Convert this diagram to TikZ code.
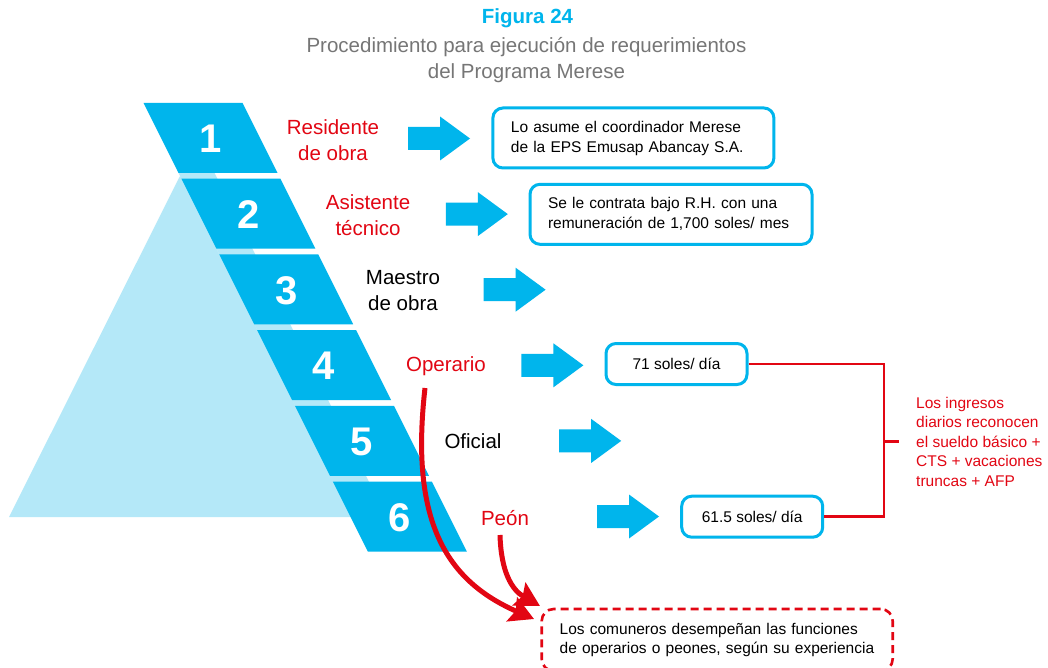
\documentclass[tikz,border=0pt]{standalone}
\usepackage{fontspec}
\setmainfont{Liberation Sans}
\usepackage{tikz}
\usetikzlibrary{arrows.meta}
\tikzstyle{canvas} = [x = 1pt, y = -1pt]
\definecolor{mereseBlue}{RGB}{0,181,236}
\definecolor{mereseLight}{RGB}{180,232,248}
\definecolor{mereseRed}{RGB}{226,6,19}
\definecolor{captionGrey}{RGB}{118,118,118}
\tikzstyle{bandStyle} = [fill=mereseBlue]
\tikzstyle{bandText} = [text=white, font=\fontsize{40}{40}\selectfont\bfseries]
\tikzstyle{roleRed} = [text=mereseRed, align=center, font=\fontsize{20.5}{26}\selectfont]
\tikzstyle{roleBlack} = [text=black, align=center, font=\fontsize{20.5}{26}\selectfont]
\tikzstyle{blueArrow} = [fill=mereseBlue]
\tikzstyle{infoBox} = [draw=mereseBlue, line width=3pt, rounded corners=10pt, fill=white, font=\fontsize{15.5}{20}\selectfont, align=left, inner xsep=18pt]
\tikzstyle{noteBox} = [draw=mereseRed, line width=2.6pt, dash pattern=on 8pt off 5pt, rounded corners=12pt, font=\fontsize{15.5}{18.6}\selectfont, align=left, inner xsep=18pt]
\tikzstyle{ingresosText} = [text=mereseRed, align=left, font=\fontsize{15.5}{19.5}\selectfont, inner xsep=17pt, inner ysep=0pt]
\tikzstyle{bracketLine} = [draw=mereseRed, line width=2.8pt]
\tikzstyle{curvedArrow} = [draw=mereseRed, line width=5pt, -{Stealth[length=24pt, width=26pt, inset=4pt]}]
\newcommand{\band}[2]{
  \pgfmathsetmacro{\bandTop}{#2}
  \pgfmathsetmacro{\bandBottom}{#2 + 70}
  \fill [bandStyle] ({92 + 0.5 * \bandTop}, {\bandTop}) -- ++(99, 0) -- ({191 + 0.5 * \bandBottom}, {\bandBottom}) -- ++(-99, 0) -- cycle;
  \node [bandText] (band#1) at ({141.5 + 0.5 * (\bandTop + 35)}, {\bandTop + 36}) {#1};
}
\newcommand{\blockArrow}[2]{\fill [blueArrow] ({#1}, {#2 - 11.5}) -- ++(32, 0) -- ++(0, -10.5) -- ({#1 + 62}, {#2}) -- ({#1 + 32}, {#2 + 22}) -- ++(0, -10.5) -- ({#1}, {#2 + 11.5}) -- cycle;}

\begin{document}
\begin{tikzpicture}[canvas]
  \clip (0, 0) rectangle (1048, 668);
  \useasboundingbox (0, 0) rectangle (1048, 668);
  \fill [white] (0, 0) rectangle (1048, 668);

  % title
  \node [font=\fontsize{20.5}{24}\selectfont\bfseries, text=mereseBlue] (figTitle) at (527.5, 18) {Figura 24};
  \node [font=\fontsize{20.5}{26}\selectfont, text=captionGrey, align=center] (figCaption) at (526.5, 60) {Procedimiento para ejecución de requerimientos\\del Programa Merese};

  % pyramid
  \fill [mereseLight] (180, 176) -- (9, 517) -- (351, 517) -- cycle;
  \fill [mereseLight] ({92 + 0.5 * 170}, 170) -- ++(36, 0) -- ({128 + 0.5 * 485}, 485) -- ({92 + 0.5 * 485}, 485) -- cycle;
  \foreach \n in {1,...,6} {
    \pgfmathsetmacro{\var}{103 + 75.7 * (\n - 1)}
    \band{\n}{\var}
  }

  % roles
  \node [roleRed] (residente) at (333, 140) {Residente\\de obra};
  \node [roleRed] (asistente) at (368, 215) {Asistente\\técnico};
  \node [roleBlack] (maestro) at (403, 290.5) {Maestro\\de obra};
  \node [roleRed] (operario) at (446, 366) {Operario};
  \node [roleBlack] (oficial) at (473, 441) {Oficial};
  \node [roleRed] (peon) at (505, 518) {Peón};

  \foreach \row in {0,...,5} {
    \pgfmathsetmacro{\arrowX}{408 + 37.8 * \row}
    \pgfmathsetmacro{\arrowY}{138.5 + 75.6 * \row}
    \blockArrow{\arrowX}{\arrowY}
  }

  % boxes
  \node [infoBox, text width=245pt, minimum height=60pt] (coordinador) at (633.4, 138) {Lo asume el coordinador Merese\\de la EPS Emusap Abancay S.A.};
  \node [infoBox, text width=246pt, minimum height=60pt] (contrata) at (671, 214.3) {Se le contrata bajo R.H. con una\\remuneración de 1,700 soles/ mes};
  \node [infoBox, minimum width=141pt, minimum height=41pt] (sueldoOperario) at (676.5, 364) {71 soles/ día};
  \node [infoBox, minimum width=141pt, minimum height=41pt] (sueldoPeon) at (752.2, 516.7) {61.5 soles/ día};

  \node [ingresosText, anchor=west] (ingresos) at (899, 441.5) {Los ingresos\\diarios reconocen\\el sueldo básico +\\CTS + vacaciones\\truncas + AFP};
  \coordinate (bracketJoint) at (884, 441.5);
  \draw [bracketLine] (sueldoOperario.east) -| (bracketJoint) |- (sueldoPeon.east);
  \draw [bracketLine] (bracketJoint) -- (ingresos.west);

  \node [noteBox, text width=315pt, minimum height=62pt] (comuneros) at (717.2, 640) {Los comuneros desempeñan las funciones\\de operarios o peones, según su experiencia};

  % red arrows
  \coordinate (operarioTail) at (425, 388);
  \coordinate (operarioTip) at (534, 619);
  \coordinate (peonTail) at (500, 535);
  \coordinate (peonTip) at (540, 606);
  \draw [curvedArrow] (operarioTail) .. controls (410, 520) and (445, 580) .. (operarioTip);
  \draw [curvedArrow] (peonTail) .. controls (501, 572) and (512, 590) .. (peonTip);
\end{tikzpicture}
\end{document}
